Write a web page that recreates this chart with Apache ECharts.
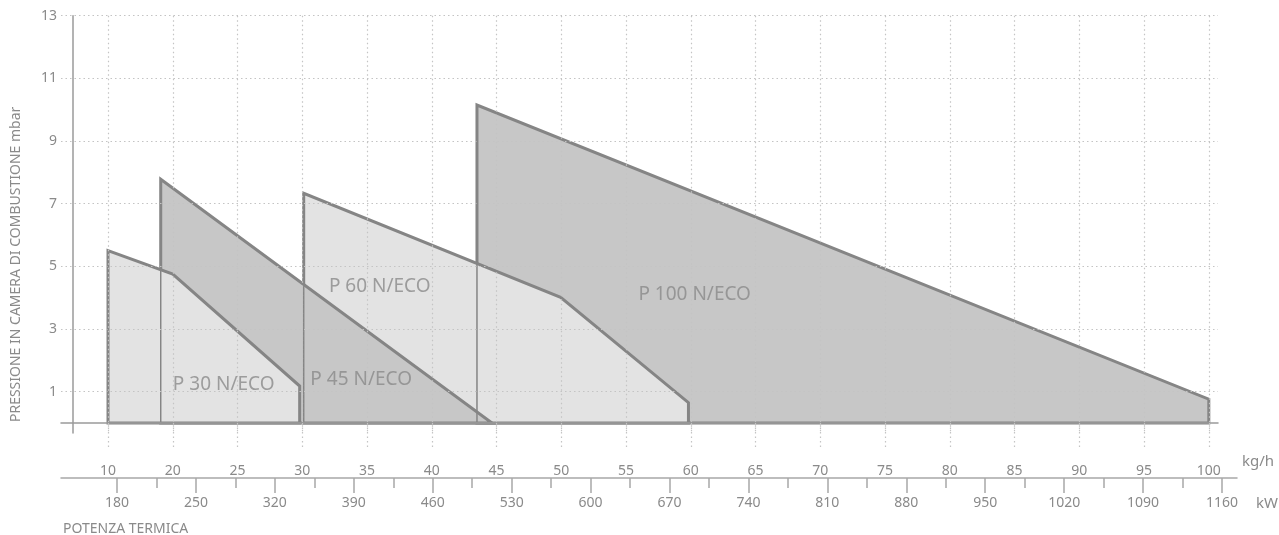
<!DOCTYPE html>
<html><head><meta charset="utf-8">
<script src="https://cdn.jsdelivr.net/npm/echarts@6/dist/echarts.min.js"></script>
<style>html,body{margin:0;padding:0;background:#fff}#c{width:1279px;height:535px}</style>
</head><body><div id="c"></div>
<script>
// x positions on the kg/h axis (the first tick is labelled "10")
const xTickPos = [15,20,25,30,35,40,45,50,55,60,65,70,75,80,85,90,95,100];
const xTickLabels = ['10','20','25','30','35','40','45','50','55','60','65','70','75','80','85','90','95','100'];
const yTickValues = [1,3,5,7,9,11,13];
const kwMajor = [180,250,320,390,460,530,600,670,740,810,880,950,1020,1090,1160];
const kwMinor = [215,285,355,425,495,565,635,705,775,845,915,985,1055,1125];

// working areas (x in kg/h axis positions, y in mbar)
const p30  = [[15,0],[15,5.50],[20,4.75],[29.8,1.18],[29.8,0]];
const p45  = [[19.07,0],[19.07,7.78],[44.65,0]];
const p60  = [[30.11,0],[30.11,7.33],[49.95,4.01],[59.82,0.65],[59.82,0]];
const p100 = [[43.49,0],[43.49,10.15],[100,0.76],[100,0]];

const labelNames = ['P 30 N/ECO','P 45 N/ECO','P 60 N/ECO','P 100 N/ECO'];
const labelX = [23.93,34.55,35.98,60.3];
const labelY = [1.24,1.39,4.35,4.09];

const FONT = 'Noto Sans';
const TXT = '#8a8a8a';
const GRIDC = '#c4c4c4';
const LIGHT = '#e3e3e3', DARK = '#c7c7c7', STROKE = '#858585';

function polySeries(points, fill) {
  return {
    type: 'custom', xAxisIndex: 0, yAxisIndex: 0, z: 1, silent: true,
    data: points, encode: {x: 0, y: 1},
    renderItem: function (params, api) {
      if (params.dataIndex !== 0) return null;
      return {
        type: 'polygon',
        shape: {points: points.map(p => api.coord(p))},
        style: {fill: fill, stroke: STROKE, lineWidth: 3, lineJoin: 'miter'}
      };
    }
  };
}
const edgePolys = [p45, p60, p100];
const edgeData = edgePolys.map(p => [p[1][0], p[1][1]]);

const chart = echarts.init(document.getElementById('c'));
chart.setOption({
  animation: false,
  backgroundColor: '#fff',
  textStyle: {fontFamily: FONT},
  title: {text: 'POTENZA TERMICA', left: 63, top: 522, padding: 0,
    textStyle: {fontSize: 14, fontWeight: 'normal', color: TXT, fontFamily: FONT}},
  grid: [
    {left: 61, right: 61, top: 15.7, bottom: 102},
    {left: 61, right: 42, top: 440, height: 38}
  ],
  xAxis: [
    {type: 'value', gridIndex: 0, min: 11.37, max: 100.71, position: 'bottom', z: 3,
      axisLine: {show: true, onZero: true, lineStyle: {color: '#9a9a9a', width: 1.5}},
      axisTick: {show: true, customValues: xTickPos, length: 26, lineStyle: {color: GRIDC, type: [1.5, 3], width: 1.2}},
      axisLabel: {customValues: xTickPos, formatter: v => xTickLabels[xTickPos.indexOf(v)],
        margin: 31, color: TXT, fontSize: 14, fontFamily: FONT},
      splitLine: {show: true, lineStyle: {color: GRIDC, type: [1.5, 3], width: 1.2}},
      name: 'kg/h', nameLocation: 'end', nameGap: 24,
      nameTextStyle: {color: TXT, fontSize: 15, fontFamily: FONT, verticalAlign: 'top', padding: [31, 0, 0, 0]}
    },
    {type: 'value', gridIndex: 1, min: 130.33, max: 1173.3, position: 'bottom',
      axisLine: {show: true, onZero: false, lineStyle: {color: '#a8a8a8', width: 1.5}},
      axisTick: {show: true, customValues: kwMajor, length: 15, lineStyle: {color: '#a8a8a8', width: 1.5}},
      axisLabel: {customValues: kwMajor, formatter: v => String(v), margin: 18, color: TXT, fontSize: 14, fontFamily: FONT},
      splitLine: {show: false},
      name: 'kW', nameLocation: 'end', nameGap: 19,
      nameTextStyle: {color: TXT, fontSize: 15, fontFamily: FONT, verticalAlign: 'top', padding: [18, 0, 0, 0]}
    },
    {type: 'value', gridIndex: 1, min: 130.33, max: 1173.3, position: 'bottom',
      axisLine: {show: false},
      axisTick: {show: true, customValues: kwMinor, length: 10, lineStyle: {color: '#a8a8a8', width: 1.5}},
      axisLabel: {show: false}, splitLine: {show: false}
    }
  ],
  yAxis: [
    {type: 'value', gridIndex: 0, min: -0.32, max: 13, offset: -12, z: 3,
      axisLine: {show: true, onZero: false, lineStyle: {color: '#9a9a9a', width: 1.5}},
      axisTick: {show: false, customValues: yTickValues},
      axisLabel: {customValues: yTickValues, margin: 16, color: TXT, fontSize: 14, fontFamily: FONT},
      splitLine: {show: true, lineStyle: {color: GRIDC, type: [1.5, 3], width: 1.2}},
      name: 'PRESSIONE IN CAMERA DI COMBUSTIONE mbar', nameLocation: 'middle', nameGap: 50, nameRotate: 90,
      nameTextStyle: {color: TXT, fontSize: 14, fontFamily: FONT, padding: [0, 80, 0, 0]}
    },
    {type: 'value', gridIndex: 1, show: false, min: 0, max: 1}
  ],
  series: [
    polySeries(p100, DARK),
    polySeries(p60, LIGHT),
    polySeries(p45, DARK),
    polySeries(p30, LIGHT),
    {type: 'custom', xAxisIndex: 0, yAxisIndex: 0, z: 1, silent: true,
      data: edgeData, encode: {x: 0, y: 1},
      renderItem: function (params, api) {
        const a = api.coord([api.value(0), 0]);
        const b = api.coord([api.value(0), api.value(1)]);
        return {type: 'line', shape: {x1: a[0], y1: a[1], x2: b[0], y2: b[1]},
          style: {stroke: STROKE, lineWidth: 1.5}};
      }
    },
    {type: 'scatter', xAxisIndex: 0, yAxisIndex: 0, z: 4, silent: true, symbolSize: 0,
      data: labelNames.map((n, i) => [labelX[i], labelY[i], n]),
      label: {show: true, position: 'inside', formatter: p => p.value[2],
        color: TXT, fontSize: 19, fontFamily: FONT}
    }
  ]
});
</script>
</body></html>
